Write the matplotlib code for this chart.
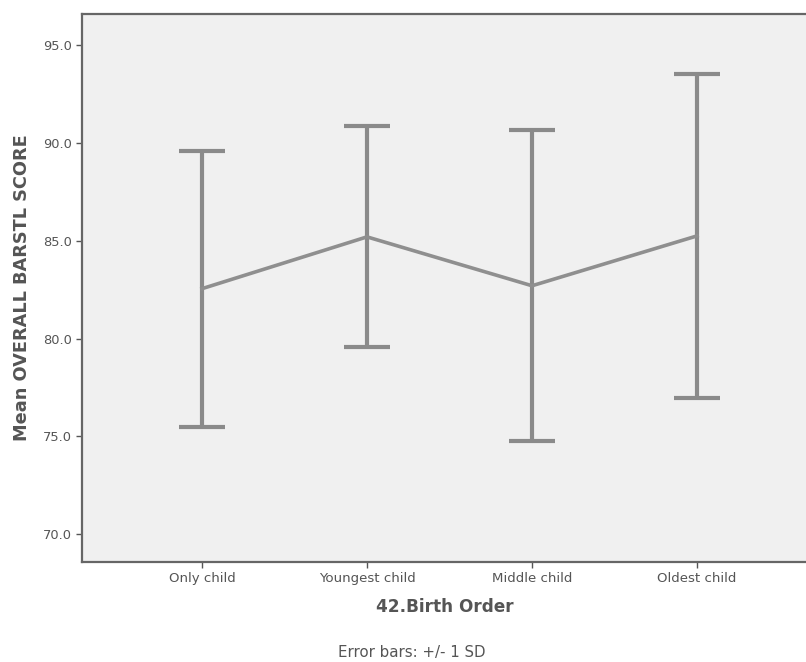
import matplotlib
matplotlib.use("Agg")
import matplotlib.pyplot as plt
import numpy as np

categories = ["Only child", "Youngest child", "Middle child", "Oldest child"]
means = [82.55, 85.2, 82.7, 85.25]
sds = [7.05, 5.65, 7.95, 8.3]
yticks = [70.0, 75.0, 80.0, 85.0, 90.0, 95.0]

fig = plt.figure(figsize=(8.06, 6.62), dpi=100)
ax = fig.add_axes([82/806, 100/662, 1 - 82/806 + 0.002, (562-14)/662])
ax.set_facecolor("#F0F0F0")
x = np.arange(len(categories))

ax.errorbar(x, means, yerr=sds, fmt="none", ecolor="#8a8a8a", elinewidth=3.0,
            capsize=16.5, capthick=3.0, zorder=2)
ax.plot(x, means, color="#8f8f8f", lw=2.6, zorder=3)

ax.set_xlim(-0.727, 3.67)
ax.set_ylim(68.57, 96.6)
ax.set_xticks(x)
ax.set_xticklabels(categories, fontsize=9.6, color="#555555")
ax.set_yticks(yticks)
ax.set_yticklabels([f"{v:.1f}" for v in yticks], fontsize=9.4, color="#555555")
ax.tick_params(axis="both", direction="out", length=4, width=1, color="#555555")
for s in ax.spines.values():
    s.set_color("#666666")
    s.set_linewidth(1.6)

ax.set_ylabel("Mean OVERALL BARSTL SCORE", fontsize=12.8, fontweight="bold",
              color="#555555", labelpad=8)
ax.set_xlabel("42.Birth Order", fontsize=12.2, fontweight="bold", color="#555555",
              labelpad=9)
fig.text(412/806, 1 - 652/662, "Error bars: +/- 1 SD", ha="center", va="center",
         fontsize=10.8, color="#555555")

fig.savefig("out.png", dpi=100, facecolor="white")
